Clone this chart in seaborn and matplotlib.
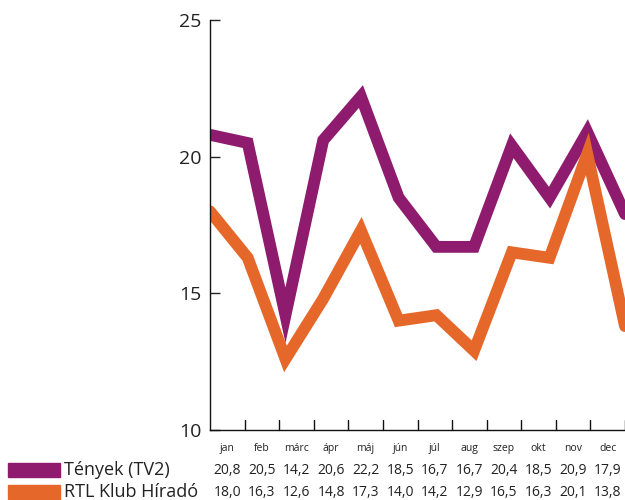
import numpy as np
import pandas as pd
import seaborn as sns
import matplotlib.pyplot as plt
from matplotlib.patches import Rectangle

months = ['jan', 'feb', 'márc', 'ápr', 'máj', 'jún', 'júl', 'aug', 'szep', 'okt', 'nov', 'dec']
tenyek = [20.8, 20.5, 14.2, 20.6, 22.2, 18.5, 16.7, 16.7, 20.4, 18.5, 20.9, 17.9]
rtl = [18.0, 16.3, 12.6, 14.8, 17.3, 14.0, 14.2, 12.9, 16.5, 16.3, 20.1, 13.8]
series_names = ['Tények (TV2)', 'RTL Klub Híradó']
colors = ['#8e1b6e', '#e5672a']

sns.set_style('white')
plt.rcParams['font.family'] = ['Open Sans', 'DejaVu Sans']

df = pd.DataFrame({'idx': list(range(12)) * 2,
                   'value': tenyek + rtl,
                   'series': [series_names[0]] * 12 + [series_names[1]] * 12})

fig = plt.figure(figsize=(6.25, 5), dpi=100)
ax = fig.add_axes([0.336, 0.14, 0.664, 0.82])
sns.lineplot(data=df, x='idx', y='value', hue='series', palette=colors,
             linewidth=8.5, ax=ax, legend=False, solid_joinstyle='miter')
ax.set_xlim(0, 11)
ax.set_ylim(10, 25)
ax.set_yticks([10, 15, 20, 25])
ax.set_yticklabels(['10', '15', '20', '25'], fontsize=14, color='#222222')
ax.tick_params(axis='y', direction='in', length=7, width=1, pad=6, left=True)
ax.set_xticks([])
ax.set_xlabel('')
ax.set_ylabel('')
for s in ['top', 'right']:
    ax.spines[s].set_visible(False)
for s in ['left', 'bottom']:
    ax.spines[s].set_color('#111111')
    ax.spines[s].set_linewidth(1)

# month cells below the axis (boundary ticks + centred labels)
tr = ax.get_xaxis_transform()
for i in range(12):
    xb = (i + 1) * 11 / 12
    ax.plot([xb, xb], [0, 0.024], transform=tr, color='#111111', lw=1, clip_on=False)
    xc = (i + 0.5) * 11 / 12
    ax.text(xc, -0.045, months[i], transform=tr, ha='center', va='center',
            fontsize=7.5, color='#222222')
    ax.text(xc, -0.1, f'{tenyek[i]:.1f}'.replace('.', ','), transform=tr,
            ha='center', va='center', fontsize=10, color='#222222')
    ax.text(xc, -0.153, f'{rtl[i]:.1f}'.replace('.', ','), transform=tr,
            ha='center', va='center', fontsize=10, color='#222222')

# legend rows
for j, (name, c) in enumerate(zip(series_names, colors)):
    yc = 470 + j * 22
    yf = 1 - yc / 500
    fig.patches.append(Rectangle((8 / 625, yf - 7 / 500), 52 / 625, 14 / 500,
                                 transform=fig.transFigure, color=c))
    fig.text(64 / 625, yf, name, ha='left', va='center', fontsize=13, color='#222222')

fig.savefig('out.png', dpi=100)
